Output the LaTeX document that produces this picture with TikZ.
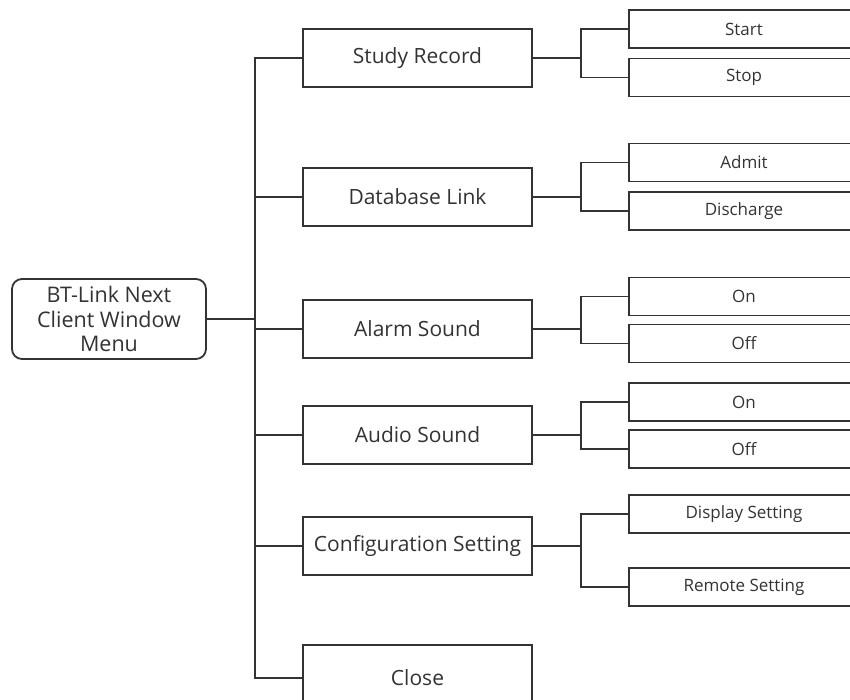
\documentclass[tikz,border=0pt]{standalone}
\usepackage{fontspec}
\setmainfont{Open Sans}
\usetikzlibrary{positioning,calc}
\definecolor{ink}{gray}{0.2}

\tikzset{
  menu/.style={draw=ink,line width=1.8pt,rounded corners=10pt,align=center,
    minimum width=194pt,minimum height=80pt,font=\fontsize{21.5}{24.5}\selectfont,text=ink},
  item/.style={draw=ink,line width=1.8pt,minimum width=229pt,minimum height=58pt,
    font=\fontsize{21}{24}\selectfont,text=ink},
  sub/.style={draw=ink,line width=1.8pt,minimum width=230pt,minimum height=38pt,
    font=\fontsize{17}{19}\selectfont,text=ink},
  link/.style={draw=ink,line width=1.8pt}
}

\begin{document}
\begin{tikzpicture}[x=1pt,y=-1pt]
\useasboundingbox (0,0) rectangle (850,700);
\clip (0,0) rectangle (850,700);
% root
\node[menu,inner sep=0pt] (root) at (109,319) {BT-Link Next\\Client Window\\Menu};
% first level
\node[item] (study) at (417.5,58) {Study Record};
\node[item] (db) at (417.5,197) {Database Link};
\node[item] (alarm) at (417.5,329) {Alarm Sound};
\node[item] (audio) at (417.5,435) {Audio Sound};
\node[item] (config) at (417.5,546) {Configuration Setting};
\node[item,minimum height=66pt] (close) at (417.5,678) {Close};
% second level
\node[sub] (start) at (744,29) {Start};
\node[sub] (stop) at (744,77.5) {Stop};
\node[sub] (admit) at (744,162.5) {Admit};
\node[sub] (dis) at (744,211) {Discharge};
\node[sub] (alon) at (744,296.5) {On};
\node[sub] (aloff) at (744,343.5) {Off};
\node[sub] (auon) at (744,402) {On};
\node[sub] (auoff) at (744,449) {Off};
\node[sub] (disp) at (744,514) {Display Setting};
\node[sub] (remote) at (744,587) {Remote Setting};
% trunk
\coordinate (ttop) at (255,58);
\coordinate (tbot) at (255,678);
\draw[link,line cap=rect] (ttop) -- (tbot);
\draw[link] (root.east) -- (root.east -| ttop);
\foreach \n in {study,db,alarm,audio,config,close}
  \draw[link] (ttop |- \n.west) -- (\n.west);
% branches
\foreach \p/\a/\b in {study/start/stop,db/admit/dis,alarm/alon/aloff,audio/auon/auoff,config/disp/remote}{
  \draw[link] (\p.east) -- ++(48,0) coordinate (\p-j);
  \draw[link] (\a.west) -| (\p-j) |- (\b.west);
}
\end{tikzpicture}
\end{document}
